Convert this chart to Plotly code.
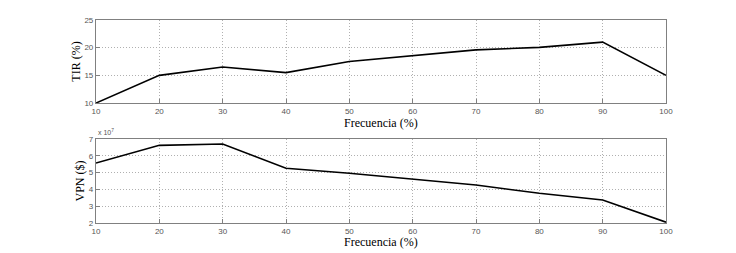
import plotly.graph_objects as go
from plotly.subplots import make_subplots

frecuencia = [10, 20, 30, 40, 50, 60, 70, 80, 90, 100]
tir = [10.0, 15.0, 16.5, 15.5, 17.5, 18.5, 19.6, 20.05, 21.0, 15.0]
vpn_x1e7 = [5.57, 6.62, 6.70, 5.26, 4.96, 4.60, 4.26, 3.77, 3.37, 2.05]

x_ticks = [10, 20, 30, 40, 50, 60, 70, 80, 90, 100]
tir_ticks = [10, 15, 20, 25]
vpn_ticks = [2, 3, 4, 5, 6, 7]

fig = make_subplots(rows=2, cols=1, vertical_spacing=0.18)
fig.add_trace(go.Scatter(x=frecuencia, y=tir, mode="lines",
                         line=dict(color="black", width=1.6), showlegend=False), row=1, col=1)
fig.add_trace(go.Scatter(x=frecuencia, y=vpn_x1e7, mode="lines",
                         line=dict(color="black", width=1.6), showlegend=False), row=2, col=1)

tickfont = dict(family="Liberation Sans, Arial", size=8, color="#555")
titlefont = dict(family="Liberation Serif, Times New Roman", size=12, color="black")
axis_common = dict(showline=True, linecolor="#808080", linewidth=1.2, mirror=True,
                   ticks="inside", ticklen=4, tickcolor="#808080",
                   showgrid=True, gridcolor="#b0b0b0", griddash="1px,2px", gridwidth=1,
                   zeroline=False, tickfont=tickfont, automargin=False)

fig.update_xaxes(**axis_common, range=[10, 100], tickvals=x_ticks)
fig.update_yaxes(**axis_common)
fig.update_yaxes(range=[10, 25], tickvals=tir_ticks,
                 title=dict(text="TIR (%)", font=titlefont, standoff=1), row=1, col=1)
fig.update_yaxes(range=[2, 7], tickvals=vpn_ticks,
                 title=dict(text="VPN ($)", font=titlefont, standoff=1), row=2, col=1)

fig.update_layout(
    width=736, height=253,
    margin=dict(l=96, r=70, t=20, b=30),
    paper_bgcolor="white", plot_bgcolor="white",
    xaxis=dict(domain=[0, 1]), yaxis=dict(domain=[0.591, 1.0]),
    xaxis2=dict(domain=[0, 1]), yaxis2=dict(domain=[0.0, 0.414]),
    annotations=[
        dict(text="x 10<sup>7</sup>", xref="paper", yref="paper",
             x=0.0, y=0.414, xanchor="left", yanchor="bottom", yshift=1,
             showarrow=False, font=dict(family="Liberation Sans, Arial", size=7, color="#555")),
        dict(text="Frecuencia (%)", xref="paper", yref="paper",
             x=0.5, y=0.494, xanchor="center", yanchor="middle",
             showarrow=False, font=titlefont),
        dict(text="Frecuencia (%)", xref="paper", yref="paper",
             x=0.5, y=-0.093, xanchor="center", yanchor="middle",
             showarrow=False, font=titlefont),
    ],
)

fig.write_html("out.html", config={"displayModeBar": False},
               post_script="document.body.style.margin='0';document.body.style.overflow='hidden';")
